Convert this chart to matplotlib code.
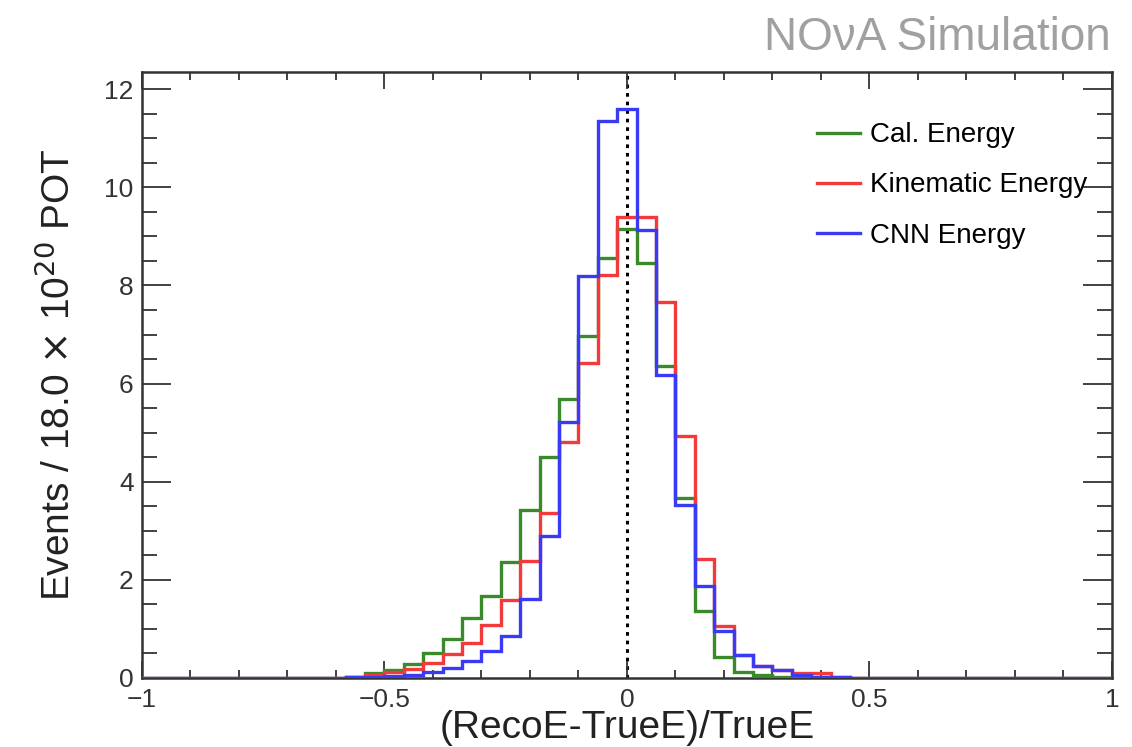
import numpy as np
import matplotlib
matplotlib.use('Agg')
import matplotlib.pyplot as plt
from matplotlib.ticker import MultipleLocator

plt.rcParams['font.family'] = ['Liberation Sans', 'DejaVu Sans']

# bin centres of the filled region (bin width 0.04)
centers = [-0.56, -0.52, -0.48, -0.44, -0.40, -0.36, -0.32, -0.28, -0.24, -0.20,
           -0.16, -0.12, -0.08, -0.04, 0.00, 0.04, 0.08, 0.12, 0.16, 0.20,
           0.24, 0.28, 0.32, 0.36, 0.40, 0.44]
cal_energy = [0.03, 0.10, 0.17, 0.29, 0.50, 0.79, 1.22, 1.67, 2.37, 3.42,
              4.50, 5.68, 6.96, 8.55, 9.16, 8.45, 6.35, 3.66, 1.37, 0.42,
              0.13, 0.06, 0.03, 0.02, 0.01, 0.00]
kin_energy = [0.03, 0.06, 0.12, 0.18, 0.30, 0.49, 0.72, 1.07, 1.59, 2.38,
              3.36, 4.81, 6.42, 8.22, 9.40, 9.40, 7.66, 4.93, 2.42, 1.06,
              0.47, 0.24, 0.16, 0.11, 0.10, 0.03]
cnn_energy = [0.02, 0.03, 0.04, 0.07, 0.13, 0.21, 0.34, 0.55, 0.86, 1.61,
              2.90, 5.22, 8.20, 11.36, 11.60, 9.14, 6.18, 3.52, 1.88, 0.96,
              0.47, 0.24, 0.16, 0.07, 0.03, 0.01]

series = [
    ('Cal. Energy', cal_energy, '#3a8a2c'),
    ('Kinematic Energy', kin_energy, '#f23a3a'),
    ('CNN Energy', cnn_energy, '#3a3af5'),
]

# full histogram range: 51 bins of 0.04 centred on multiples of 0.04
width = 0.04
all_centers = np.round(np.arange(-1.0, 1.0 + 1e-9, width), 2)
edges = np.concatenate([all_centers - width / 2, [all_centers[-1] + width / 2]])

fig = plt.figure(figsize=(11.32, 7.47), dpi=100)
ax = fig.add_axes([0.1254, 0.0924, 0.8569, 0.8112])

for label, vals, col in series:
    full = np.zeros(len(all_centers))
    for c, v in zip(centers, vals):
        full[np.argmin(np.abs(all_centers - c))] = v
    ax.stairs(full, edges, color=col, lw=2.4, label=label, baseline=None, zorder=3)

ax.axvline(0, color='black', ls=(0, (1.2, 1.6)), lw=2.2, zorder=1)

ax.set_xlim(-1, 1)
ax.set_ylim(0, 12.35)
ax.xaxis.set_major_locator(MultipleLocator(0.5))
ax.xaxis.set_minor_locator(MultipleLocator(0.1))
ax.yaxis.set_major_locator(MultipleLocator(2))
ax.yaxis.set_minor_locator(MultipleLocator(0.5))
ax.xaxis.set_major_formatter(plt.FuncFormatter(lambda v, p: '0' if abs(v) < 1e-9 else ('%g' % v).replace('-', '\u2212')))

ax.tick_params(which='both', direction='in', top=True, right=True, labelsize=19, width=1.3, colors='#333333')
ax.tick_params(axis='x', which='major', length=12, pad=7)
ax.tick_params(axis='x', which='minor', length=6)
ax.tick_params(axis='y', which='major', length=21, pad=6)
ax.tick_params(axis='y', which='minor', length=11)
for s in ax.spines.values():
    s.set_linewidth(1.8)
    s.set_color('#333333')

ax.set_xlabel('(RecoE-TrueE)/TrueE', fontsize=28, color='#222222', labelpad=-1)
ax.set_ylabel(r'Events / 18.0 $\times$ 10$^{20}$ POT', fontsize=28, color='#222222', labelpad=19)

leg = ax.legend(loc='upper left', bbox_to_anchor=(0.696, 0.917), frameon=False, fontsize=20,
                borderpad=0, borderaxespad=0,
                handlelength=1.55, handletextpad=0.35, labelspacing=0.87)

fig.text(0.981, 0.949, 'NO\u03bdA Simulation', ha='right', va='center', fontsize=33, color='#a0a0a0')

fig.savefig('out.png', dpi=100)
